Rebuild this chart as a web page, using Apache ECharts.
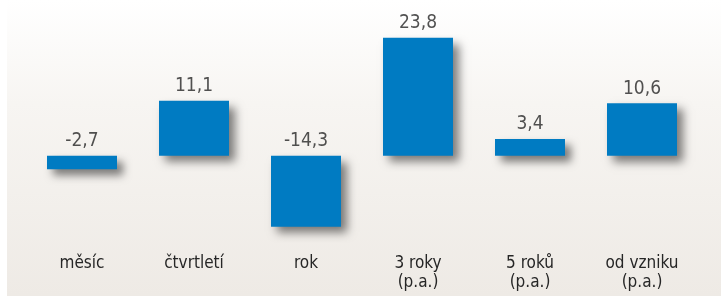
<!DOCTYPE html>
<html>
<head>
<meta charset="utf-8">
<script src="https://cdn.jsdelivr.net/npm/echarts@6/dist/echarts.min.js"></script>
<style>
  html, body { margin: 0; padding: 0; background: #fff; }
  #ch { width: 721px; height: 296px; }
</style>
</head>
<body>
<div id="ch"></div>
<script>
var categories = ['měsíc', 'čtvrtletí', 'rok', '3 roky\n(p.a.)', '5 roků\n(p.a.)', 'od vzniku\n(p.a.)'];
var values = [-2.7, 11.1, -14.3, 23.8, 3.4, 10.6];

var font = '"Liberation Sans Narrow", "DejaVu Sans Condensed", sans-serif';

var chart = echarts.init(document.getElementById('ch'));
var option = {
    backgroundColor: '#fff',
    animation: false,
    graphic: [{
        type: 'rect',
        z: -10,
        silent: true,
        shape: { x: 7, y: 0, width: 714, height: 296 },
        style: {
            fill: new echarts.graphic.LinearGradient(0, 0, 0, 1, [
                { offset: 0, color: '#ffffff' },
                { offset: 0.35, color: '#f7f5f2' },
                { offset: 1, color: '#eeeae5' }
            ])
        }
    }],
    grid: { left: 26, right: 23, top: 7, height: 238 },
    xAxis: {
        type: 'category',
        data: categories,
        axisLine: { show: false },
        axisTick: { show: false },
        axisLabel: {
            margin: 9,
            color: '#262626',
            fontFamily: font,
            fontSize: 17,
            lineHeight: 19
        }
    },
    yAxis: {
        type: 'value',
        min: -18,
        max: 30,
        show: false,
        splitLine: { show: false }
    },
    series: [
        {
            type: 'bar',
            data: values,
            barWidth: 70,
            itemStyle: {
                color: '#007bc2',
                shadowColor: 'rgba(0,0,0,0.5)',
                shadowBlur: 9,
                shadowOffsetX: 6,
                shadowOffsetY: 6
            }
        },
        {
            type: 'scatter',
            symbolSize: 0,
            data: values.map(function (v) { return v > 0 ? v : 0; }),
            label: {
                show: true,
                position: 'top',
                distance: 5,
                color: '#262626',
                fontFamily: font,
                fontSize: 19,
                formatter: function (p) {
                    return String(values[p.dataIndex]).replace('.', ',');
                }
            },
            z: 5
        }
    ]
};
chart.setOption(option);
</script>
</body>
</html>
